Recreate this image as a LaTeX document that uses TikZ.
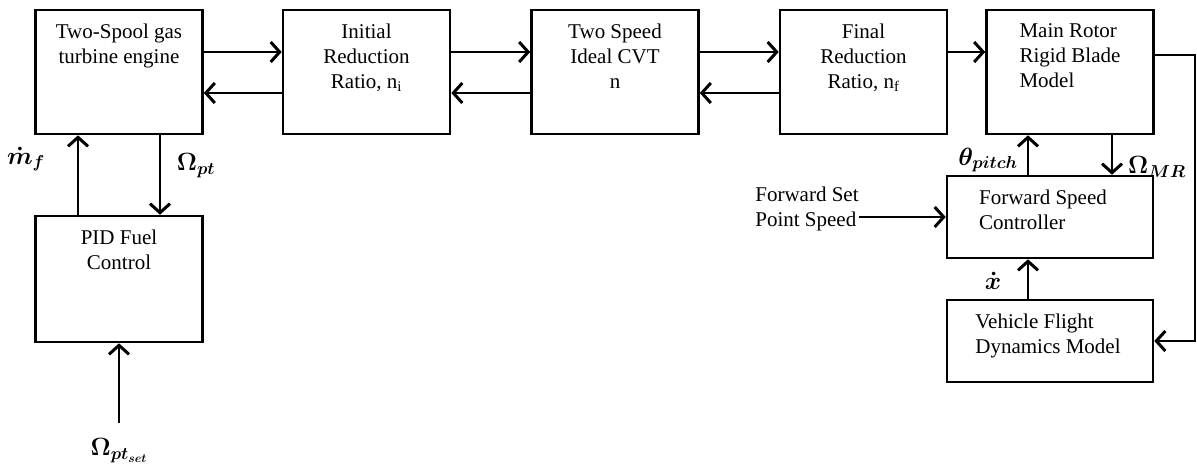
\documentclass[tikz,border=0pt]{standalone}
\usepackage{fontspec}
\setmainfont{Liberation Serif}
\usetikzlibrary{arrows.meta, positioning, calc}

\begin{document}
\begin{tikzpicture}[x=1pt, y=-1pt,
        block/.style={rectangle, draw, line width=2.6pt, minimum width=167pt, minimum height=124pt, inner sep=0pt},
        ctrl/.style={block, minimum width=206pt, minimum height=82pt},
        boxtext/.style={anchor=north, yshift=-15pt, inner sep=0pt, font=\fontsize{21}{25}\selectfont},
        flow/.style={line width=1.7pt, -{Straight Barb[length=9pt, width=20pt, line width=3pt]}},
        sig/.style={inner sep=0pt, font=\fontsize{25}{30}\selectfont\boldmath}
    ]
        \useasboundingbox (0,0) rectangle (1197,471);

        % Drive train
        \node[block, label={[boxtext, align=center]north:Two-Spool gas\\turbine engine}] (eng) at (119, 72) {};
        \node[block, label={[boxtext, align=center]north:Initial\\Reduction\\Ratio, n\textsubscript{i}}] (ini) at (366.5, 72) {};
        \node[block, label={[boxtext, align=center]north:Two Speed\\Ideal CVT\\n}] (cvt) at (615, 72) {};
        \node[block, label={[boxtext, align=center]north:Final\\Reduction\\Ratio, n\textsubscript{f}}] (fin) at (863.5, 72) {};
        \node[block, label={[boxtext, align=left]north:Main Rotor\\Rigid Blade\\Model}] (rot) at (1070, 72) {};

        % Controllers
        \node[block, minimum height=126pt, label={[boxtext, align=center]north:PID Fuel\\Control}] (pid) at (119, 279) {};
        \node[ctrl, label={[boxtext, xshift=-7pt, align=left]north:Forward Speed\\Controller}] (fsc) at (1050, 217) {};
        \node[ctrl, label={[boxtext, xshift=-2pt, align=left]north:Vehicle Flight\\Dynamics Model}] (vfd) at (1050, 341) {};

        % Inputs
        \node[inner sep=0pt, align=left, font=\fontsize{21}{25}\selectfont] (fsp) at (807, 209) {Forward Set\\Point Speed};
        \node[sig] (ptset) at (119, 451) {$\Omega_{pt_{set}}$};
        \coordinate (ptin) at (119, 423);
        \coordinate (loop) at (1195, 55);

        % Forward and back paths
        \draw[flow] ([yshift=20pt]eng.east) -- ([yshift=20pt]ini.west);
        \draw[flow] ([yshift=-21pt]ini.west) -- ([yshift=-21pt]eng.east);
        \draw[flow] ([yshift=20pt]ini.east) -- ([yshift=20pt]cvt.west);
        \draw[flow] ([yshift=-21pt]cvt.west) -- ([yshift=-21pt]ini.east);
        \draw[flow] ([yshift=20pt]cvt.east) -- ([yshift=20pt]fin.west);
        \draw[flow] ([yshift=-21pt]fin.west) -- ([yshift=-21pt]cvt.east);
        \draw[flow] ([yshift=20pt]fin.east) -- ([yshift=20pt]rot.west);
        \draw[flow, line width=1.2pt] ([yshift=17pt]rot.east) -- (loop) |- (vfd.east);

        % Engine loop
        \draw[flow] ([xshift=-41pt]pid.north) -- ([xshift=-41pt]eng.south);
        \draw[flow] ([xshift=41pt]eng.south) -- ([xshift=41pt]pid.north);
        \draw[flow] (ptin) -- (pid.south);
        \node[sig] (mf) at (26, 159) {$\dot{m}_f$};
        \node[sig] (wpt) at (196, 166) {$\Omega_{pt}$};

        % Rotor loop
        \draw[flow] ([xshift=-22pt]fsc.north) -- ([xshift=-22pt]fsc.north |- rot.south);
        \draw[flow] ([xshift=62pt]fsc.north |- rot.south) -- ([xshift=62pt]fsc.north);
        \draw[flow] ([xshift=-22pt]vfd.north) -- ([xshift=-22pt]fsc.south);
        \draw[flow] (fsp.east |- fsc.west) -- (fsc.west);
        \node[sig] (theta) at (988, 160) {$\theta_{pitch}$};
        \node[sig] (wmr) at (1157, 167) {$\Omega_{MR}$};
        \node[sig] (xd) at (993, 281) {$\dot{x}$};

    \end{tikzpicture}
\end{document}
